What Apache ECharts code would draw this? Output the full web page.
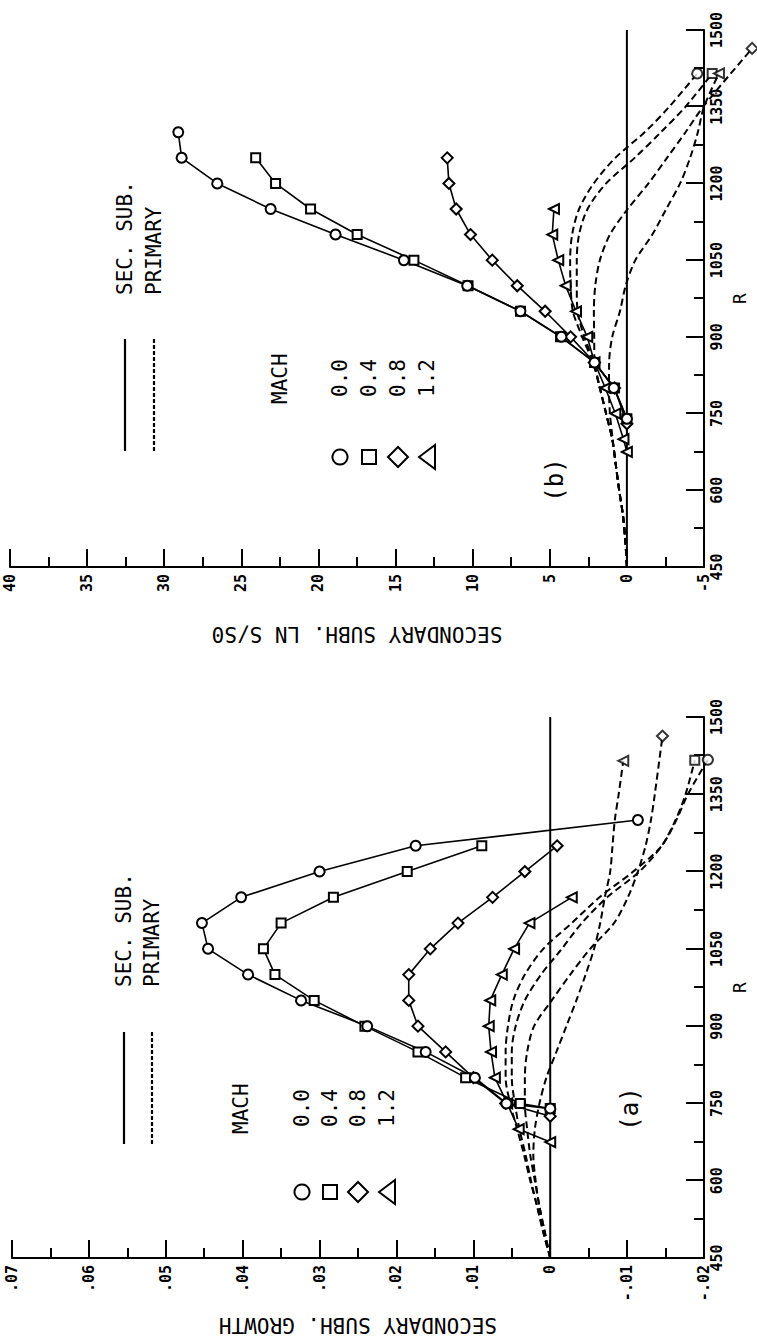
<!DOCTYPE html>
<html>
<head>
<meta charset="utf-8">
<script src="https://cdn.jsdelivr.net/npm/echarts@6.0.0/dist/echarts.min.js"></script>
<style>
html,body{margin:0;padding:0;background:#fff;width:757px;height:1337px;overflow:hidden;}
#wrap{position:absolute;left:0;top:1337px;width:1337px;height:757px;transform-origin:0 0;transform:rotate(-90deg);}
#chart{width:1337px;height:757px;background:#fff;}
</style>
</head>
<body>
<div id="wrap"><div id="chart"></div></div>
<script>
// ---------- tick labels ----------
const R_TICKS = [450, 600, 750, 900, 1050, 1200, 1350, 1500];
const R_TICK_LABELS = ['450', '600', '750', '900', '1050', '1200', '1350', '1500'];
const GROWTH_TICKS = [-0.02, -0.01, 0, 0.01, 0.02, 0.03, 0.04, 0.05, 0.06, 0.07];
const GROWTH_TICK_LABELS = ['-.02', '-.01', '0', '.01', '.02', '.03', '.04', '.05', '.06', '.07'];
const LNS_TICKS = [-5, 0, 5, 10, 15, 20, 25, 30, 35, 40];
const LNS_TICK_LABELS = ['-5', '0', '5', '10', '15', '20', '25', '30', '35', '40'];
const MACH_LABELS = ['0.0', '0.4', '0.8', '1.2'];
const ZERO_R = [450, 1500];
const ZERO_V = [0, 0];

// ---------- panel (a): secondary subharmonic growth (solid, markers) ----------
const A_CIRCLE_R = [740, 750, 800, 850, 900, 950, 1000, 1050, 1100, 1150, 1200, 1250, 1300];
const A_CIRCLE_G = [0, 0.0057, 0.0098, 0.0162, 0.0238, 0.0324, 0.0393, 0.0445, 0.0453, 0.0402, 0.0300, 0.0175, -0.0114];
const A_SQUARE_R = [740, 750, 800, 850, 900, 950, 1000, 1050, 1100, 1150, 1200, 1250];
const A_SQUARE_G = [0, 0.0039, 0.0110, 0.0172, 0.0241, 0.0307, 0.0358, 0.0373, 0.0350, 0.0282, 0.0186, 0.0089];
const A_DIAMOND_R = [725, 750, 800, 850, 900, 950, 1000, 1050, 1100, 1150, 1200, 1250];
const A_DIAMOND_G = [0, 0.0058, 0.0100, 0.0136, 0.0172, 0.0184, 0.0184, 0.0156, 0.0120, 0.0075, 0.0033, -0.0009];
const A_TRIANGLE_R = [675, 700, 750, 800, 850, 900, 950, 1000, 1050, 1100, 1150];
const A_TRIANGLE_G = [0, 0.0041, 0.0056, 0.0072, 0.0077, 0.0080, 0.0078, 0.0063, 0.0047, 0.0027, -0.0028];

// ---------- panel (a): primary growth (dashed) ----------
const PRIM_R = [450, 500, 550, 600, 650, 700, 750, 800, 850, 900, 950, 1000, 1050, 1100, 1150, 1200, 1250, 1300, 1350];
const A_PRIM_CIRCLE = [0, 0.0009, 0.0017, 0.0026, 0.0034, 0.0043, 0.0052, 0.0058, 0.0058, 0.0055, 0.0048, 0.0033, 0.0009, -0.0028, -0.0064, -0.0108, -0.0145, -0.0164, -0.0179];
const A_PRIM_SQUARE = [0, 0.0009, 0.0017, 0.0025, 0.0032, 0.0040, 0.0046, 0.0050, 0.0050, 0.0045, 0.0033, 0.0012, -0.0015, -0.0041, -0.0074, -0.0116, -0.0145, -0.0163, -0.0176];
const A_PRIM_DIAMOND = [0, 0.0007, 0.0014, 0.0020, 0.0026, 0.0030, 0.0033, 0.0033, 0.0030, 0.0021, -0.0002, -0.0026, -0.0052, -0.0083, -0.0101, -0.0114, -0.0124, -0.0131, -0.0136];
const A_PRIM_TRIANGLE = [0, 0.0007, 0.0014, 0.0019, 0.0022, 0.0020, 0.0014, 0.0005, -0.0008, -0.0021, -0.0034, -0.0046, -0.0057, -0.0065, -0.0071, -0.0078, -0.0081, -0.0084, -0.0089];
const A_PRIM_END_R = [1417, 1416, 1463, 1415];
const A_PRIM_END_G = [-0.0205, -0.0188, -0.0146, -0.0095];

// ---------- panel (b): secondary subharmonic ln S/S0 (solid, markers) ----------
const B_CIRCLE_R = [740, 800, 850, 900, 950, 1000, 1050, 1100, 1150, 1200, 1250, 1300];
const B_CIRCLE_S = [0, 0.85, 2.1, 4.25, 6.9, 10.35, 14.46, 18.89, 23.10, 26.56, 28.87, 29.09];
const B_SQUARE_R = [740, 800, 850, 900, 950, 1000, 1050, 1100, 1150, 1200, 1250];
const B_SQUARE_S = [0, 0.8, 2.1, 4.3, 6.9, 10.3, 13.81, 17.49, 20.51, 22.78, 24.07];
const B_DIAMOND_R = [730, 800, 850, 900, 950, 1000, 1050, 1100, 1150, 1200, 1250];
const B_DIAMOND_S = [0, 0.8, 2.1, 3.65, 5.3, 7.11, 8.73, 10.14, 11.07, 11.54, 11.65];
const B_TRIANGLE_R = [675, 700, 750, 800, 850, 900, 950, 1000, 1050, 1100, 1150];
const B_TRIANGLE_S = [0, 0.22, 0.75, 1.4, 2.1, 2.57, 3.3, 3.97, 4.45, 4.84, 4.73];

// ---------- panel (b): primary ln A/A0 (dashed) ----------
const B_PRIM_CIRCLE = [0, 0.1, 0.25, 0.5, 0.72, 0.95, 1.35, 1.75, 2.2, 2.9, 3.5, 3.65, 3.68, 3.55, 3.1, 2.15, 0.75, -1.15, -2.75];
const B_PRIM_SQUARE = [0, 0.1, 0.25, 0.5, 0.72, 0.95, 1.35, 1.75, 2.15, 2.75, 3.2, 3.25, 3.25, 3.1, 2.55, 1.35, -0.5, -2.2, -3.8];
const B_PRIM_DIAMOND = [0, 0.1, 0.25, 0.5, 0.72, 0.95, 1.35, 1.75, 2.1, 2.12, 2.14, 2.05, 1.75, 1.1, -0.05, -1.4, -2.6, -3.8, -4.95];
const B_PRIM_TRIANGLE = [0, 0.1, 0.25, 0.5, 0.72, 0.92, 1.1, 1.16, 1.15, 0.95, 0.45, 0.08, -0.55, -1.65, -2.55, -3.45, -4.1, -4.6, -5.0];
const B_PRIM_END_R = [1415, 1415, 1464, 1415];
const B_PRIM_END_S = [-4.56, -5.53, -8.12, -5.97];

// ---------- build ----------
const FONT = '"DejaVu Sans Mono", "Liberation Mono", monospace';
const SYMBOLS = ['circle', 'rect', 'diamond', 'triangle'];
const SYM_SIZE = [10, 9, 11, 10];

function pairs(R, V) { return R.map((r, i) => [r, V[i]]); }
function labelFn(ticks, labels) {
  const step = ticks[1] - ticks[0];
  return v => labels[Math.round((v - ticks[0]) / step)] || '';
}
function rAxis(gi) {
  return {
    type: 'value', gridIndex: gi,
    min: R_TICKS[0], max: R_TICKS[R_TICKS.length - 1], interval: R_TICKS[1] - R_TICKS[0],
    name: 'R', nameLocation: 'middle', nameGap: 26,
    nameTextStyle: { fontFamily: FONT, fontSize: 18, color: '#000' },
    axisLine: { onZero: false, lineStyle: { color: '#000', width: 2 } },
    axisTick: { inside: true, length: 18, lineStyle: { color: '#000', width: 2 } },
    minorTick: { show: true, splitNumber: 2, length: 10, lineStyle: { color: '#000', width: 2 } },
    splitLine: { show: false }, minorSplitLine: { show: false },
    axisLabel: { fontFamily: FONT, fontSize: 15, fontWeight: 'bold', color: '#000', margin: 5, formatter: labelFn(R_TICKS, R_TICK_LABELS) }
  };
}
function vAxis(gi, ticks, labels, name, interval) {
  return {
    type: 'value', gridIndex: gi,
    min: ticks[0], max: ticks[ticks.length - 1], interval: interval,
    name: name, nameLocation: 'middle', nameGap: 56, nameRotate: 90,
    nameTextStyle: { fontFamily: FONT, fontSize: 21, color: '#000' },
    axisLine: { onZero: false, lineStyle: { color: '#000', width: 2 } },
    axisTick: { inside: true, length: 18, lineStyle: { color: '#000', width: 2 } },
    minorTick: { show: true, splitNumber: 2, length: 10, lineStyle: { color: '#000', width: 2 } },
    splitLine: { show: false }, minorSplitLine: { show: false },
    axisLabel: { fontFamily: FONT, fontSize: 15, fontWeight: 'bold', color: '#000', margin: 7, formatter: labelFn(ticks, labels) }
  };
}
function solid(gi, R, V, k) {
  return {
    type: 'line', xAxisIndex: gi, yAxisIndex: gi, data: pairs(R, V),
    symbol: SYMBOLS[k], symbolSize: SYM_SIZE[k], showSymbol: true, showAllSymbol: true,
    itemStyle: { color: '#fff', borderColor: '#000', borderWidth: 2 },
    lineStyle: { color: '#000', width: 1.6 }, clip: false, z: 4, silent: true
  };
}
function dashed(gi, V, endR, endV) {
  const d = pairs(PRIM_R, V); d.push([endR, endV]);
  return {
    type: 'line', xAxisIndex: gi, yAxisIndex: gi, data: d, symbol: 'none', showSymbol: false,
    smooth: 0.3, lineStyle: { color: '#000', width: 2, type: [7, 4] }, clip: false, z: 3, silent: true
  };
}
function endMark(gi, r, v, k) {
  return {
    type: 'scatter', xAxisIndex: gi, yAxisIndex: gi, data: [[r, v]],
    symbol: SYMBOLS[k], symbolSize: SYM_SIZE[k],
    itemStyle: { color: '#fff', borderColor: '#000', borderWidth: 2 }, clip: false, z: 5, silent: true
  };
}
function zero(gi) {
  return {
    type: 'line', xAxisIndex: gi, yAxisIndex: gi, data: pairs(ZERO_R, ZERO_V), symbol: 'none',
    lineStyle: { color: '#000', width: 2 }, z: 2, silent: true
  };
}

const series = [zero(0), zero(1)];
[A_PRIM_CIRCLE, A_PRIM_SQUARE, A_PRIM_DIAMOND, A_PRIM_TRIANGLE].forEach((v, k) => {
  series.push(dashed(0, v, A_PRIM_END_R[k], A_PRIM_END_G[k]));
  series.push(endMark(0, A_PRIM_END_R[k], A_PRIM_END_G[k], k));
});
[B_PRIM_CIRCLE, B_PRIM_SQUARE, B_PRIM_DIAMOND, B_PRIM_TRIANGLE].forEach((v, k) => {
  series.push(dashed(1, v, B_PRIM_END_R[k], B_PRIM_END_S[k]));
  series.push(endMark(1, B_PRIM_END_R[k], B_PRIM_END_S[k], k));
});
series.push(solid(0, A_TRIANGLE_R, A_TRIANGLE_G, 3));
series.push(solid(0, A_DIAMOND_R, A_DIAMOND_G, 2));
series.push(solid(0, A_SQUARE_R, A_SQUARE_G, 1));
series.push(solid(0, A_CIRCLE_R, A_CIRCLE_G, 0));
series.push(solid(1, B_TRIANGLE_R, B_TRIANGLE_S, 3));
series.push(solid(1, B_DIAMOND_R, B_DIAMOND_S, 2));
series.push(solid(1, B_SQUARE_R, B_SQUARE_S, 1));
series.push(solid(1, B_CIRCLE_R, B_CIRCLE_S, 0));

// legend drawn as graphic elements (pixel layout of the original plot)
function legend(o) {
  const g = [];
  const txt = (x, y, t, size, align) => ({ type: 'text', x: x, y: y, silent: true,
    style: { text: t, fontFamily: FONT, fontSize: size || 21, fill: '#000', align: align || 'left', verticalAlign: 'middle' } });
  g.push({ type: 'line', silent: true, shape: { x1: o.l0, y1: o.lv[0], x2: o.l1, y2: o.lv[0] }, style: { stroke: '#000', lineWidth: 2.2 } });
  g.push({ type: 'line', silent: true, shape: { x1: o.l0, y1: o.lv[1], x2: o.l1, y2: o.lv[1] }, style: { stroke: '#000', lineWidth: 2.2, lineDash: [4, 2] } });
  g.push(txt(o.tu, o.lv[0], 'SEC. SUB.'));
  g.push(txt(o.tu, o.lv[1], 'PRIMARY'));
  g.push(txt(o.mu, o.mv, 'MACH'));
  const s = o.su, st = { fill: '#fff', stroke: '#000', lineWidth: 2 };
  const v = o.rv;
  g.push({ type: 'circle', silent: true, shape: { cx: s, cy: v[0], r: 7.5 }, style: st });
  g.push({ type: 'rect', silent: true, shape: { x: s - 7, y: v[1] - 7, width: 14, height: 14 }, style: st });
  g.push({ type: 'polygon', silent: true, shape: { points: [[s, v[2] - 10], [s + 10, v[2]], [s, v[2] + 10], [s - 10, v[2]]] }, style: st });
  g.push({ type: 'polygon', silent: true, shape: { points: [[s, v[3] - 8], [s + 12, v[3] + 8], [s - 12, v[3] + 8]] }, style: st });
  MACH_LABELS.forEach((t, i) => g.push(txt(o.lu, v[i], t)));
  g.push(txt(o.pu, o.pv, o.panel, 24, 'center'));
  return g;
}
const graphic = [].concat(
  legend({ l0: 193, l1: 305, lv: [124, 152], tu: 350, mu: 203, mv: 241, su: 145, rv: [302, 330, 358, 387], lu: 210, pu: 228, pv: 630, panel: '(a)' }),
  legend({ l0: 886, l1: 998, lv: [125, 154], tu: 1042, mu: 933, mv: 280, su: 880, rv: [340, 369, 398, 427], lu: 940, pu: 857, pv: 555, panel: '(b)' })
);

const chart = echarts.init(document.getElementById('chart'), null, { renderer: 'svg', width: 1337, height: 757 });
chart.setOption({
  animation: false,
  backgroundColor: '#fff',
  grid: [
    { left: 79, top: 12, width: 541, height: 692, outerBoundsMode: 'none' },
    { left: 770, top: 10, width: 537, height: 694, outerBoundsMode: 'none' }
  ],
  xAxis: [rAxis(0), rAxis(1)],
  yAxis: [
    vAxis(0, GROWTH_TICKS, GROWTH_TICK_LABELS, 'SECONDARY SUBH. GROWTH', 0.01),
    vAxis(1, LNS_TICKS, LNS_TICK_LABELS, 'SECONDARY SUBH. LN S/S0', 5)
  ],
  series: series,
  graphic: graphic
});
</script>
</body>
</html>
